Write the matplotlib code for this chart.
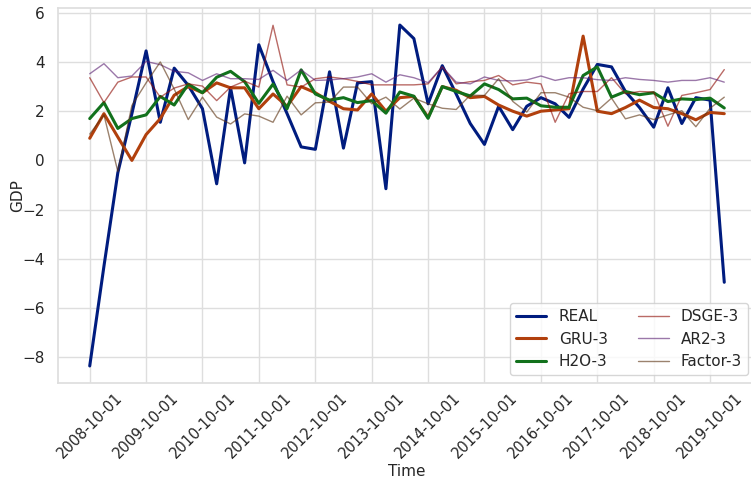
import numpy as np
import pandas as pd
import matplotlib
matplotlib.use("Agg")
import matplotlib.pyplot as plt
import seaborn as sns

# quarterly GDP forecasts, 2008-10-01 .. 2020-01-01
dates = pd.date_range("2008-10-01", periods=46, freq="QS-OCT")

real = [-8.35, -4.3, -0.5, 1.9, 4.45, 1.55, 3.75, 3.05, 2.1, -0.95,
        2.95, -0.1, 4.7, 3.2, 1.9, 0.55, 0.45, 3.6, 0.5, 3.15,
        3.2, -1.15, 5.5, 4.95, 2.3, 3.85, 2.7, 1.5, 0.65, 2.2,
        1.25, 2.2, 2.55, 2.3, 1.75, 2.9, 3.9, 3.8, 2.8, 2.15,
        1.35, 2.95, 1.5, 2.55, 2.45, -4.95]
gru = [0.9, 1.9, 0.95, 0.0, 1.05, 1.7, 2.65, 3.0, 2.75, 3.15,
       2.95, 2.95, 2.1, 2.7, 2.2, 3.0, 2.75, 2.4, 2.1, 2.05,
       2.7, 2.0, 2.55, 2.6, 1.75, 3.0, 2.85, 2.55, 2.6, 2.25,
       2.0, 1.8, 2.0, 2.05, 2.1, 5.05, 2.0, 1.9, 2.15, 2.45,
       2.15, 2.1, 1.9, 1.65, 1.95, 1.9]
h2o = [1.7, 2.35, 1.3, 1.7, 1.85, 2.6, 2.25, 3.1, 2.75, 3.38,
       3.62, 3.2, 2.32, 3.1, 2.1, 3.68, 2.7, 2.45, 2.55, 2.35,
       2.43, 1.92, 2.78, 2.61, 1.71, 3.0, 2.8, 2.62, 3.11, 2.88,
       2.5, 2.53, 2.22, 2.16, 2.16, 3.45, 3.8, 2.57, 2.8, 2.67,
       2.75, 2.39, 2.5, 2.47, 2.53, 2.13]
dsge = [3.36, 2.35, 3.18, 3.39, 3.39, 2.57, 2.94, 3.11, 3.02, 2.43,
        2.98, 3.22, 2.98, 5.49, 3.07, 2.98, 3.32, 3.39, 3.32, 3.21,
        3.07, 3.07, 3.07, 3.07, 3.11, 3.8, 3.11, 3.2, 3.25, 3.45,
        3.07, 3.18, 3.11, 1.55, 2.71, 2.8, 2.8, 3.36, 2.71, 2.8,
        2.78, 1.39, 2.64, 2.75, 2.88, 3.69]
ar2 = [3.52, 3.93, 3.36, 3.43, 4.02, 3.89, 3.62, 3.56, 3.25, 3.52,
       3.32, 3.32, 3.29, 3.66, 3.25, 3.68, 3.25, 3.27, 3.32, 3.39,
       3.52, 3.18, 3.48, 3.36, 3.16, 3.8, 3.18, 3.11, 3.39, 3.25,
       3.23, 3.27, 3.43, 3.25, 3.36, 3.36, 3.28, 3.25, 3.36, 3.29,
       3.25, 3.18, 3.25, 3.25, 3.36, 3.18]
factor = [1.07, 1.85, -0.45, 2.23, 3.15, 4.0, 2.9, 1.66, 2.57, 1.76,
          1.48, 1.89, 1.8, 1.55, 2.61, 1.85, 2.34, 2.37, 2.98, 2.98,
          2.3, 2.57, 2.09, 2.53, 2.3, 2.12, 2.07, 2.65, 2.64, 3.32,
          2.4, 1.96, 2.75, 2.75, 2.57, 2.16, 2.02, 2.53, 1.69, 1.85,
          1.66, 1.85, 2.02, 1.37, 2.12, 2.57]

tick_dates = pd.date_range("2008-10-01", "2019-10-01", freq="12MS")
tick_labels = [d.strftime("%Y-%m-%d") for d in tick_dates]

sns.set_theme(style="whitegrid", rc={"grid.color": "#dedede", "axes.edgecolor": "#dedede"})
pal = sns.color_palette("dark")

fig = plt.figure(figsize=(7.51, 4.8), dpi=100)
ax = fig.add_axes([58 / 751, 1 - 383 / 480, 698 / 751, 375 / 480])

ax.plot(dates, real, color=pal[0], lw=2.2, label="REAL")
ax.plot(dates, gru, color=pal[1], lw=2.2, label="GRU-3")
ax.plot(dates, h2o, color=pal[2], lw=2.2, label="H2O-3")
ax.plot(dates, dsge, color=pal[3], lw=1, alpha=0.6, label="DSGE-3")
ax.plot(dates, ar2, color=pal[4], lw=1, alpha=0.6, label="AR2-3")
ax.plot(dates, factor, color=pal[5], lw=1, alpha=0.6, label="Factor-3")

ax.set_xticks(tick_dates)
ax.set_xticklabels(tick_labels, rotation=45, fontsize=10.5)
ax.tick_params(axis="x", pad=-1)
ax.set_xlabel("Time", fontsize=11, labelpad=2)
ax.set_ylabel("GDP", fontsize=11, labelpad=-2)
ax.legend(loc="lower right", ncol=2)

plt.savefig("out.png")
